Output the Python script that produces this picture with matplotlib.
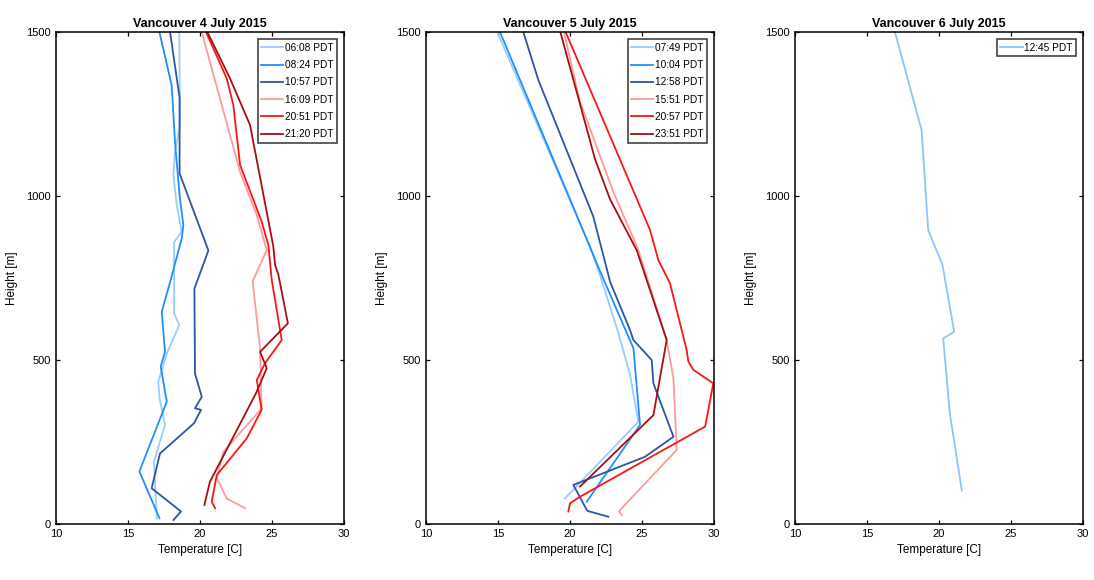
import numpy as np
import matplotlib.pyplot as plt

plt.rcParams['font.family'] = ['Liberation Sans', 'DejaVu Sans']

# ---- 4 July 2015 ----
jul4_labels = ["06:08 PDT", "08:24 PDT", "10:57 PDT", "16:09 PDT", "20:51 PDT", "21:20 PDT"]
jul4_temp = [
    [18.56, 18.61, 18.26, 18.15, 18.38, 18.72, 18.2, 18.2, 18.56, 17.7, 17.1, 17.2, 17.57, 16.8, 17.0],
    [17.18, 18.03, 18.26, 18.6, 18.84, 18.73, 17.96, 17.34, 17.57, 17.27, 17.69, 15.79, 17.18],
    [17.92, 18.58, 18.58, 20.58, 19.61, 19.65, 20.12, 19.65, 20.07, 19.58, 17.22, 16.64, 18.68, 18.15],
    [20.12, 22.78, 23.94, 24.63, 23.65, 24.17, 24.28, 21.62, 21.16, 21.85, 23.13],
    [20.42, 21.85, 22.31, 22.78, 24.28, 24.74, 24.98, 25.67, 24.51, 23.94, 24.28, 23.24, 21.16, 20.81, 21.04],
    [20.51, 22.08, 23.47, 25.09, 25.21, 25.44, 26.1, 24.17, 24.63, 23.9, 20.69, 20.3],
]
jul4_height = [
    [1500, 1216, 1135, 1064, 973, 891, 860, 642, 607, 520, 434, 380, 302, 190, 17],
    [1500, 1338, 1166, 993, 912, 871, 744, 647, 525, 480, 373, 160, 18],
    [1500, 1300, 1069, 834, 718, 459, 388, 353, 348, 307, 215, 109, 38, 12],
    [1500, 1074, 942, 835, 740, 536, 353, 220, 140, 78, 48],
    [1500, 1359, 1278, 1095, 922, 851, 744, 561, 490, 439, 348, 261, 149, 68, 48],
    [1500, 1359, 1217, 846, 790, 760, 612, 525, 475, 400, 129, 58],
]

# ---- 5 July 2015 ----
jul5_labels = ["07:49 PDT", "10:04 PDT", "12:58 PDT", "15:51 PDT", "20:57 PDT", "23:51 PDT"]
jul5_temp = [
    [14.95, 21.39, 22.08, 23.3, 24.17, 24.75, 19.65],
    [15.14, 22.2, 24.4, 24.86, 21.16],
    [16.76, 17.8, 21.62, 22.78, 24.17, 24.4, 25.67, 25.79, 27.18, 25.21, 20.23, 21.2, 22.66],
    [19.58, 20.69, 23.0, 24.75, 26.71, 27.18, 27.41, 23.59, 23.4, 23.6],
    [19.7, 25.56, 26.13, 26.94, 28.1, 28.22, 28.56, 29.95, 29.38, 20.69, 20.0, 19.88],
    [19.33, 21.74, 22.78, 24.63, 26.71, 25.79, 20.69],
]
jul5_height = [
    [1500, 846, 759, 591, 454, 312, 78],
    [1500, 759, 536, 302, 68],
    [1500, 1354, 937, 739, 591, 561, 500, 429, 266, 205, 119, 40, 22],
    [1500, 1288, 1013, 835, 561, 444, 226, 48, 38, 27],
    [1500, 896, 805, 734, 530, 495, 470, 429, 297, 83, 63, 38],
    [1500, 1112, 990, 835, 561, 332, 114],
]

# ---- 6 July 2015 ----
jul6_labels = ["12:45 PDT"]
jul6_temp = [[16.94, 18.79, 19.25, 20.24, 21.05, 20.29, 20.75, 21.58]]
jul6_height = [[1500, 1201, 896, 790, 586, 566, 337, 102]]

colors = ["#99ccff", "#1f8fff", "#2b55a5", "#ff9a9a", "#ff1414", "#a50f0f"]

panels = [
    ("Vancouver 4 July 2015", jul4_labels, jul4_temp, jul4_height),
    ("Vancouver 5 July 2015", jul5_labels, jul5_temp, jul5_height),
    ("Vancouver 6 July 2015", jul6_labels, jul6_temp, jul6_height),
]
lefts = [0.0512, 0.3894, 0.7267]

fig = plt.figure(figsize=(10.94, 5.8), dpi=100)
for (title, labels, temps, heights), left in zip(panels, lefts):
    ax = fig.add_axes([left, 0.0966, 0.2633, 0.848])
    for i, (t, h) in enumerate(zip(temps, heights)):
        color = colors[i] if len(temps) > 1 else "#8cc4ff"
        ax.plot(t, h, color=color, lw=1.3, label=labels[i])
    ax.set_xlim(10, 30)
    ax.set_ylim(0, 1500)
    ax.set_xticks([10, 15, 20, 25, 30])
    ax.set_yticks([0, 500, 1000, 1500])
    ax.tick_params(direction='in', top=True, right=True, length=3, labelsize=8, width=0.9)
    for s in ax.spines.values():
        s.set_linewidth(1.1)
    ax.set_title(title, fontsize=9, fontweight='bold', pad=4)
    ax.set_xlabel("Temperature [C]", fontsize=8.5, labelpad=4)
    ax.set_ylabel("Height [m]", fontsize=8.5, labelpad=6)
    leg = ax.legend(loc='upper right', fontsize=7.3, frameon=True, fancybox=False,
                    edgecolor='black', handlelength=2.2, handletextpad=0.15,
                    borderpad=0.35, labelspacing=0.72, borderaxespad=0.7)
    leg.get_frame().set_linewidth(1.1)

fig.savefig("out.png", dpi=100)
